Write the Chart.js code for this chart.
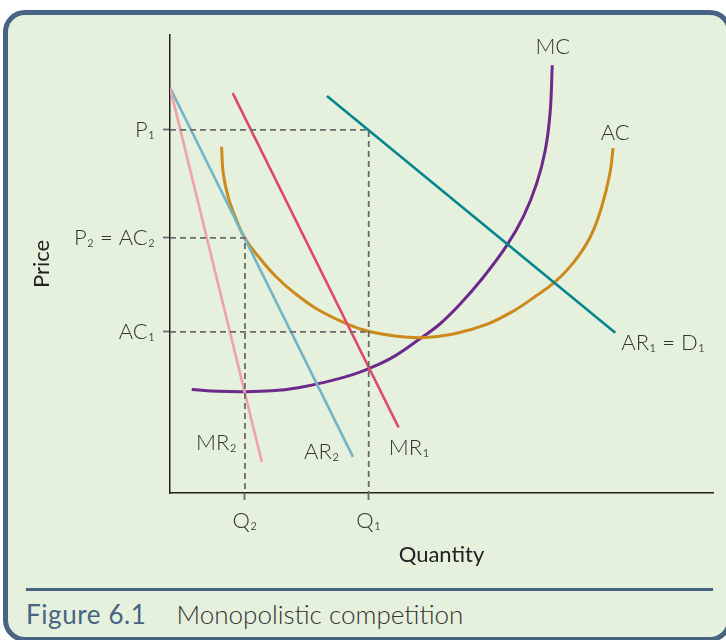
<!DOCTYPE html>
<html lang="en">
<head>
<meta charset="UTF-8">
<title>Figure 6.1 Monopolistic competition</title>
<script src="https://cdn.jsdelivr.net/npm/chart.js"></script>
<style>
  body { margin: 0; background: #fff; width: 726px; height: 640px; overflow: hidden; position: relative; font-family: Lato, 'Open Sans', sans-serif; }
  .frame { position: absolute; left: 3px; top: 10px; width: 729px; height: 632px; box-sizing: border-box; border: 5px solid #476483; border-radius: 22px; background: #e5f0dd; }
  .chart-box { position: absolute; left: 0; top: 0; width: 726px; height: 580px; }
  .caption { position: absolute; left: 26px; top: 588px; width: 687px; border-top: 3px solid #476483; padding-top: 7px; font-size: 26px; font-weight: 300; color: #333; white-space: nowrap; }
  .caption .num { color: #476483; font-weight: 400; letter-spacing: 0.6px; margin-right: 30px; }
</style>
</head>
<body>
<div class="frame"></div>
<div class="chart-box"><canvas id="chart" width="726" height="580"></canvas></div>
<div class="caption"><span class="num">Figure 6.1</span>Monopolistic competition</div>

<script>
// axis ranges (arbitrary units)
const qtyRange = [0, 100];
const priceRange = [0, 100];

// tick positions and labels
const qtyTicks = [13.8, 36.6];
const qtyTickLabels = ['Q\u2082', 'Q\u2081'];
const priceTicks = [35.2, 55.7, 79.3];
const priceTickLabels = ['AC\u2081', 'P\u2082 = AC\u2082', 'P\u2081'];

// MC curve
const mcQty   = [4.0, 8.9, 13.8, 18.7, 23.6, 28.6, 33.5, 36.5, 40.8, 45.7, 49.7, 53.4, 57.7, 62.0, 65.1, 67.5, 69.1, 70.0, 70.4];
const mcPrice = [22.6, 22.2, 22.1, 22.3, 23.0, 24.2, 25.8, 27.1, 29.5, 33.4, 36.9, 41.2, 47.1, 54.0, 60.4, 67.5, 74.8, 83.0, 93.4];

// AC curve
const acQty   = [9.5, 9.8, 10.7, 12.0, 13.8, 16.3, 19.3, 23.0, 27.3, 32.8, 36.5, 41.4, 46.4, 52.2, 58.3, 63.2, 67.5, 70.9, 74.3, 77.4, 79.5, 81.0, 81.6];
const acPrice = [75.6, 69.8, 64.7, 60.3, 55.6, 51.6, 47.5, 43.6, 40.0, 36.8, 35.3, 34.3, 33.9, 34.7, 36.8, 39.7, 43.1, 46.1, 50.3, 55.9, 62.5, 69.7, 75.3];

// straight demand / revenue lines (start, end)
const ar1Qty = [28.9, 82.0],  ar1Price = [86.7, 35.0];
const mr1Qty = [11.55, 42.1], mr1Price = [87.3, 14.3];
const ar2Qty = [0, 33.7],     ar2Price = [88.5, 7.9];
const mr2Qty = [0, 16.9],     mr2Price = [88.5, 6.8];

// dashed guide lines
const guideP1Qty  = [0, 36.6, 36.6], guideP1Price  = [79.3, 79.3, 0];
const guideP2Qty  = [0, 13.8, 13.8], guideP2Price  = [55.7, 55.7, 0];
const guideAC1Qty = [0, 36.6],       guideAC1Price = [35.2, 35.2];

// curve labels: text, qty, price, align
const curveLabels = [
  ['MC', 70.5, 97.4, 'center'],
  ['AC', 82.0, 78.6, 'center'],
  ['AR\u2081 = D\u2081', 83.1, 32.8, 'left'],
  ['MR\u2081', 40.3, 9.8, 'left'],
  ['AR\u2082', 24.7, 9.0, 'left'],
  ['MR\u2082', 4.8, 10.9, 'left']
];

const FONT = "Lato, 'Open Sans', sans-serif";

function pts(xs, ys) {
  return xs.map((x, i) => ({ x: x, y: ys[i] }));
}

function curve(label, xs, ys, color, width, tension) {
  return { label, data: pts(xs, ys), borderColor: color, borderWidth: width, tension: tension || 0, pointRadius: 0, fill: false };
}

function guide(xs, ys) {
  return { label: 'guide', data: pts(xs, ys), borderColor: '#6b6b6b', borderWidth: 1.8, borderDash: [6, 4], pointRadius: 0, fill: false };
}

const labelPlugin = {
  id: 'curveLabels',
  afterDatasetsDraw(chart) {
    const ctx = chart.ctx;
    const xs = chart.scales.x, ys = chart.scales.y;
    ctx.save();
    ctx.font = '300 22px ' + FONT;
    ctx.fillStyle = '#333';
    ctx.textBaseline = 'middle';
    curveLabels.forEach(l => {
      ctx.textAlign = l[3];
      ctx.fillText(l[0], xs.getPixelForValue(l[1]), ys.getPixelForValue(l[2]));
    });
    ctx.restore();
  }
};

new Chart(document.getElementById('chart'), {
  type: 'line',
  data: {
    datasets: [
      guide(guideP1Qty, guideP1Price),
      guide(guideP2Qty, guideP2Price),
      guide(guideAC1Qty, guideAC1Price),
      curve('MR2', mr2Qty, mr2Price, '#f0a2ac', 2.6),
      curve('AR2', ar2Qty, ar2Price, '#74b5c5', 2.6),
      curve('MR1', mr1Qty, mr1Price, '#e0476b', 2.6),
      curve('AR1', ar1Qty, ar1Price, '#00868f', 2.6),
      curve('AC', acQty, acPrice, '#cd8a1c', 3, 0.4),
      curve('MC', mcQty, mcPrice, '#6b2a8c', 3, 0.4)
    ]
  },
  options: {
    responsive: false,
    animation: false,
    devicePixelRatio: 1,
    layout: { padding: { left: 0, right: 13, top: 35, bottom: 0 } },
    plugins: { legend: { display: false }, tooltip: { enabled: false } },
    scales: {
      x: {
        type: 'linear', min: qtyRange[0], max: qtyRange[1],
        afterFit: s => { s.height = 87; },
        afterBuildTicks: s => { s.ticks = qtyTicks.map(v => ({ value: v })); },
        ticks: { autoSkip: false, padding: 8, color: '#333', font: { family: FONT, size: 22, weight: '300' }, callback: (v, i) => qtyTickLabels[i] },
        grid: { drawOnChartArea: false, drawTicks: true, tickLength: 7, tickColor: '#6b6b6b', tickWidth: 1.8 },
        border: { display: true, color: '#222', width: 1.5 },
        title: { display: true, text: 'Quantity', color: '#222', font: { family: FONT, size: 22 }, padding: { bottom: 12 } }
      },
      y: {
        type: 'linear', min: priceRange[0], max: priceRange[1],
        afterFit: s => { s.width = 170; },
        afterBuildTicks: s => { s.ticks = priceTicks.map(v => ({ value: v })); },
        ticks: { autoSkip: false, padding: 8, color: '#333', font: { family: FONT, size: 22, weight: '300' }, callback: (v, i) => priceTickLabels[i] },
        grid: { drawOnChartArea: false, drawTicks: true, tickLength: 7, tickColor: '#6b6b6b', tickWidth: 1.8 },
        border: { display: true, color: '#222', width: 1.5 },
        title: { display: true, text: 'Price', color: '#222', font: { family: FONT, size: 22 }, padding: { top: 29 } }
      }
    }
  },
  plugins: [labelPlugin]
});
</script>
</body>
</html>
